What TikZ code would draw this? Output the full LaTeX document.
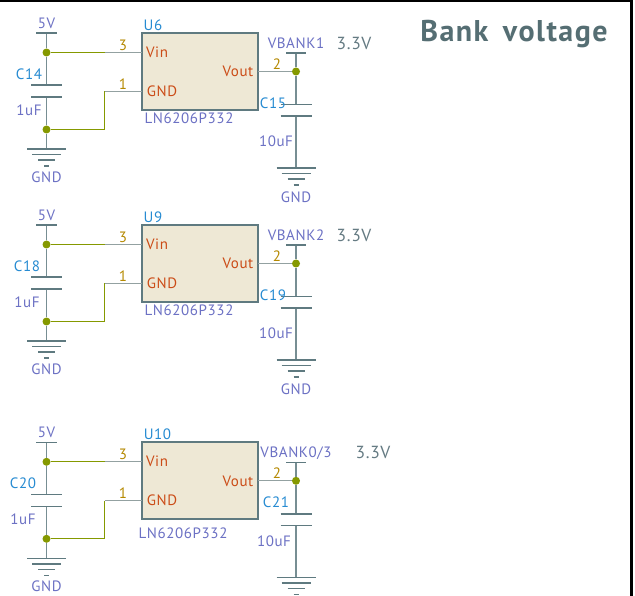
\documentclass[tikz,border=0pt]{standalone}
\usepackage{fontspec}
\setmainfont{PT Sans}
\newfontfamily\labfont[LetterSpace=4]{PT Sans}
\newfontfamily\titlefont[LetterSpace=5,WordSpace=1.6]{PT Sans Bold}
\definecolor{wiregreen}{HTML}{859900}
\definecolor{pinline}{HTML}{93A1A1}
\definecolor{stroke}{HTML}{5F7A80}
\definecolor{icfill}{HTML}{EEE8D5}
\definecolor{vlabel}{HTML}{6C71C4}
\definecolor{reflabel}{HTML}{268BD2}
\definecolor{pinname}{HTML}{CB4B16}
\definecolor{pinnum}{HTML}{B58900}
\definecolor{notecol}{HTML}{657B83}
\tikzset{
  lab/.style={font=\labfont\fontsize{15}{16}\selectfont,inner sep=0pt,text height=10.5pt,text depth=0pt},
  vallab/.style={lab,text=vlabel},
  reflab/.style={lab,text=reflabel},
  pinnamelab/.style={lab,text=pinname},
  pinnumlab/.style={lab,text=pinnum},
  notelab/.style={font=\labfont\fontsize{17.5}{18}\selectfont,inner sep=0pt,text=notecol},
  icbox/.style={draw=stroke,line width=2pt,fill=icfill,minimum width=116pt,minimum height=77pt,inner sep=0pt},
  dotjunction/.style={circle,fill=wiregreen,inner sep=0pt,minimum size=8pt},
  wire/.style={draw=wiregreen,line width=1.2pt},
  pinwire/.style={draw=pinline,line width=1.3pt},
  railwire/.style={draw=stroke!85!white,line width=1.5pt},
  plate/.style={draw=stroke,line width=1.6pt}
}
% ground symbol at a named coordinate
\newcommand{\gndsym}[1]{
  \draw[plate] ([xshift=-19.5pt,yshift=0pt]#1) -- ([xshift=19.5pt]#1);
  \draw[plate] ([xshift=-14.5pt,yshift=-5.5pt]#1) -- ([xshift=14.5pt,yshift=-5.5pt]#1);
  \draw[plate] ([xshift=-8.5pt,yshift=-11pt]#1) -- ([xshift=8.5pt,yshift=-11pt]#1);
  \draw[plate] ([xshift=-2.5pt,yshift=-17pt]#1) -- ([xshift=2.5pt,yshift=-17pt]#1);
}
% #1 y offset, #2 suffix
\newcommand{\bankblock}[2]{
\begin{scope}[shift={(0,#1)}]
  \node[icbox] (ic#2) at (200,71.5) {};
  \node[reflab,anchor=center] (u#2) at (\refx,25) {\refname};
  \node[vallab] (part#2) at (\partx,\party) {LN6206P332};
  \node[pinnamelab] (vin#2) at (157,52) {Vin};
  \node[pinnamelab] (gn#2) at (162,91) {GND};
  \node[pinnamelab] (vo#2) at (238,71.5) {Vout};
  \node[pinnumlab] (n3#2) at (123,45) {3};
  \node[pinnumlab] (n1#2) at (123,84) {1};
  \node[pinnumlab] (n2#2) at (277,64) {2};
  % left rail
  \node[dotjunction] (ja#2) at (46.5,52.5) {};
  \node[dotjunction] (jb#2) at (46.5,129.5) {};
  \coordinate (top#2) at (46.5,33);
  \coordinate (pa#2) at (46.5,85);
  \coordinate (pb#2) at (46.5,97);
  \coordinate (lg#2) at (46.5,149);
  \coordinate (kv#2) at (104.5,52.5);
  \coordinate (kg#2) at (104.5,91.5);
  \coordinate (pv#2) at (142,52.5);
  \coordinate (pg#2) at (142,91.5);
  \draw[railwire] (top#2) -- (ja#2) -- (pa#2);
  \draw[railwire] (pb#2) -- (jb#2) -- (lg#2);
  \draw[plate] (36,33) -- (57,33);
  \draw[plate] (31,85) -- (62,85);
  \draw[plate] (31,97) -- (62,97);
  \gndsym{lg#2}
  \draw[wire] (ja#2) -- (kv#2);
  \draw[wire] (jb#2) -| (kg#2);
  \draw[pinwire] (kv#2) -- (pv#2);
  \draw[pinwire] (kg#2) -- (pg#2);
  % right rail
  \node[dotjunction] (jc#2) at (296,71.5) {};
  \coordinate (rtop#2) at (296,53);
  \coordinate (ra#2) at (296,104.5);
  \coordinate (rb#2) at (296,116);
  \coordinate (rg#2) at (296,168);
  \coordinate (po#2) at (258,71.5);
  \draw[railwire] (rtop#2) -- (jc#2) -- (ra#2);
  \draw[railwire] (rb#2) -- (rg#2);
  \draw[pinwire] (po#2) -- (jc#2);
  \draw[plate] (286,53) -- (306,53);
  \draw[plate] (280.5,104.5) -- (312,104.5);
  \draw[plate] (280.5,116) -- (312,116);
  \gndsym{rg#2}
  \node[vallab] (five#2) at (46.5,23) {5V};
  \node[vallab] (gl#2) at (46.5,177) {GND};
  \node[reflab] (ca#2) at (\cax,74) {\caname};
  \node[vallab] (cav#2) at (\cavx,110) {1uF};
  \node[reflab] (cb#2) at (\cbx,\cby) {\cbname};
  \node[vallab] (cbv#2) at (\cbvx,\cbvy) {10uF};
  \node[vallab] (vb#2) at (296,43) {\vbname};
  \node[notelab] (vv#2) at (\notex,43.5) {3.3V};
\end{scope}
}
\begin{document}
\begin{tikzpicture}[x=1pt,y=-1pt]
  \useasboundingbox (0,0) rectangle (635,596);
  \fill[white] (0,0) rectangle (635,596);
  \begin{scope}
  \clip (0,0) rectangle (635,596);
  \coordinate (ftl) at (0,1);
  \coordinate (ftr) at (631,1);
  \coordinate (fbr) at (631,596);
  \draw[stroke,line width=3pt] (ftl) -- (ftr) -- (fbr);
  \node[font=\titlefont\fontsize{30}{32}\selectfont,text=stroke!90!black,inner sep=0pt] (title) at (514,34) {Bank voltage};

  \def\refname{U6}\def\refx{153}\def\partx{189}\def\party{118}
  \def\caname{C14}\def\cax{29}\def\cavx{29}
  \def\cbname{C15}\def\cbx{273}\def\cby{103}\def\cbvx{276}\def\cbvy{141}
  \def\vbname{VBANK1}\def\notex{354}
  \bankblock{0}{a}
  \node[vallab] (gra) at (296,197) {GND};

  \def\refname{U9}\def\refx{153}
  \def\caname{C18}\def\cax{27}\def\cavx{27}
  \def\cbname{C19}
  \def\vbname{VBANK2}
  \bankblock{192}{b}
  \node[vallab] (grb) at (296,389) {GND};

  \def\refname{U10}\def\refx{157.5}\def\partx{183}\def\party{124}
  \def\caname{C20}\def\cax{23}\def\cavx{23}
  \def\cbname{C21}\def\cbx{276}\def\cby{92.5}\def\cbvx{274}\def\cbvy{132}
  \def\vbname{VBANK0/3}\def\notex{373}
  \bankblock{409.3}{c}
  \end{scope}
\end{tikzpicture}
\end{document}
